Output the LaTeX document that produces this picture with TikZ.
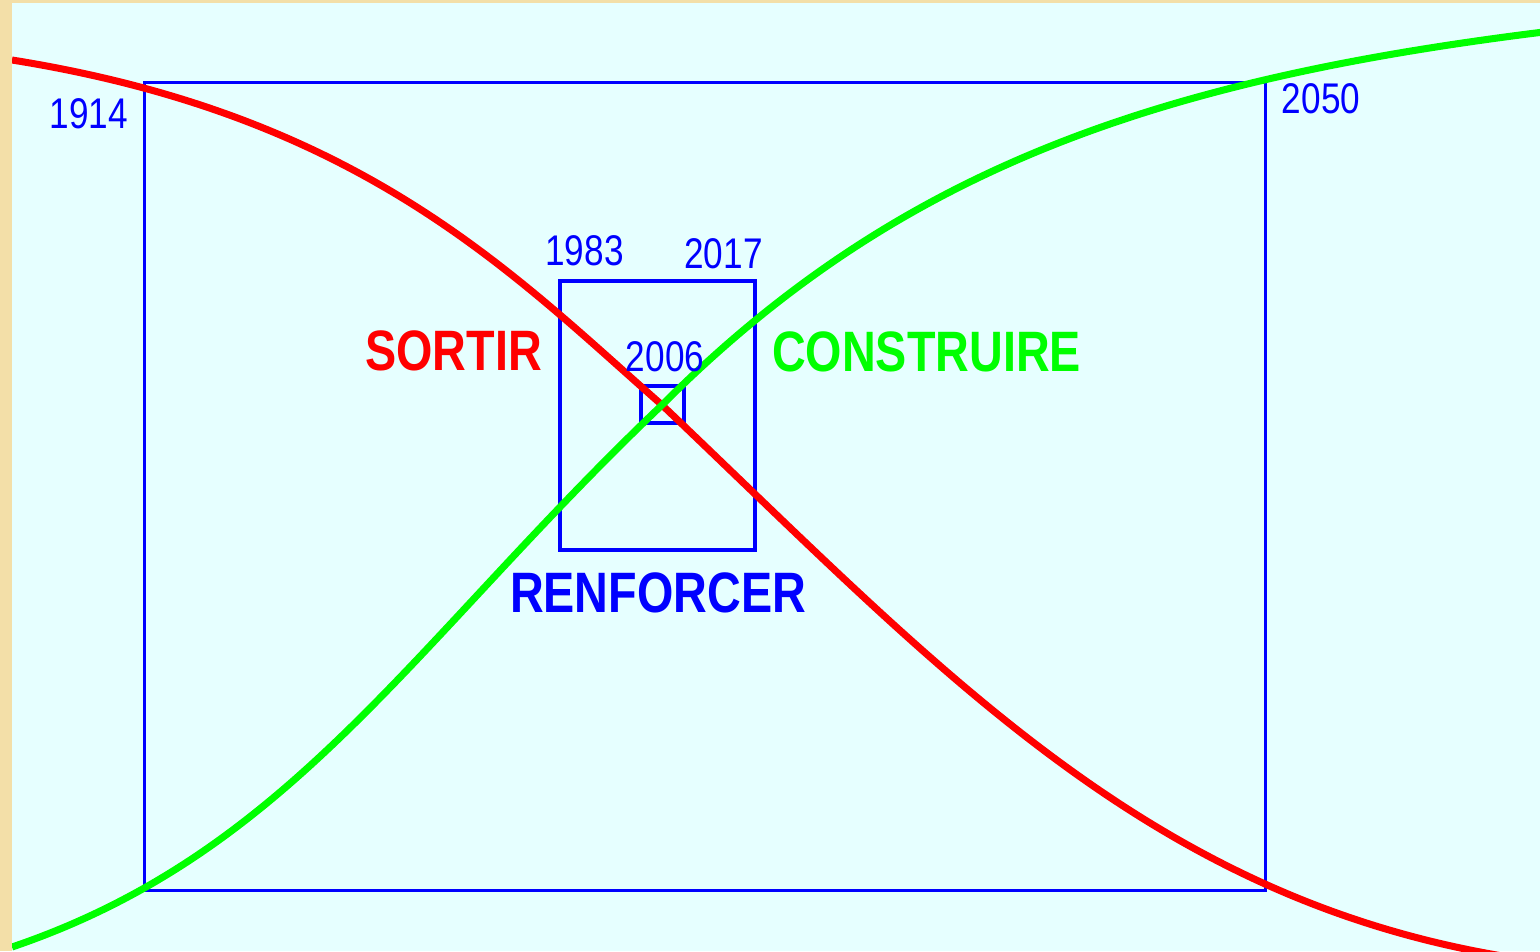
\documentclass[tikz,border=0pt]{standalone}
\usepackage{fontspec}
\setmainfont{Liberation Sans}[FakeStretch=0.82]
\definecolor{panelcyan}{RGB}{230,255,255}
\definecolor{framebeige}{RGB}{243,223,168}
\begin{document}
\begin{tikzpicture}[
    x=0.01cm, y=-0.01cm,
    % Styles
    periodbox/.style={draw=blue, line width=0.95pt, inner sep=0pt, outer sep=0pt},
    yearlabel/.style={text=blue, font=\fontsize{12.2}{14}\selectfont, anchor=base, inner sep=0pt},
    actionlabel/.style={text=#1, font=\fontsize{16.2}{19}\selectfont\bfseries, anchor=base, inner sep=0pt},
    trend/.style={draw=#1, line width=2pt, line join=round}
]

% --- Background ---
\useasboundingbox (0,0) rectangle (1540,951);
\fill[framebeige] (0,0) rectangle (1540,951);
\fill[panelcyan] (12,3) rectangle (1540,951);

% --- Period boxes ---
\node[periodbox, minimum width=11.2cm, minimum height=8.07cm] (box1914) at (705,486.5) {};
\node[periodbox, minimum width=1.95cm, minimum height=2.69cm] (box1983) at (657.5,415.5) {};
\node[periodbox, minimum width=0.43cm, minimum height=0.37cm] (box2006) at (662.5,404.5) {};
\coordinate (cross) at (662,405);

% --- Curves ---
\begin{scope}
    \clip (12,3) rectangle (1540,951);
    % Sortir (falling)
    \draw[trend=red] (12,60) .. controls (362,116) and (512,273) .. (cross)
        .. controls (962,690) and (1180,935) .. (1600,968);
    % Construire (rising)
    \draw[trend=green] (12,947) .. controls (292,852) and (412,643) .. (cross)
        .. controls (900,167) and (1160,78) .. (1560,30);
\end{scope}

% --- Years ---
\node[yearlabel] (y1914) at (89,128) {1914};
\node[yearlabel] (y2050) at (1321,113) {2050};
\node[yearlabel] (y1983) at (584.5,265) {1983};
\node[yearlabel] (y2017) at (723.5,268) {2017};
\node[yearlabel] (y2006) at (665,371) {2006};

% --- Actions ---
\node[actionlabel=red] (sortir) at (453.5,370) {SORTIR};
\node[actionlabel=green] (construire) at (926.5,371) {CONSTRUIRE};
\node[actionlabel=blue] (renforcer) at (658,612) {RENFORCER};

\end{tikzpicture}
\end{document}
